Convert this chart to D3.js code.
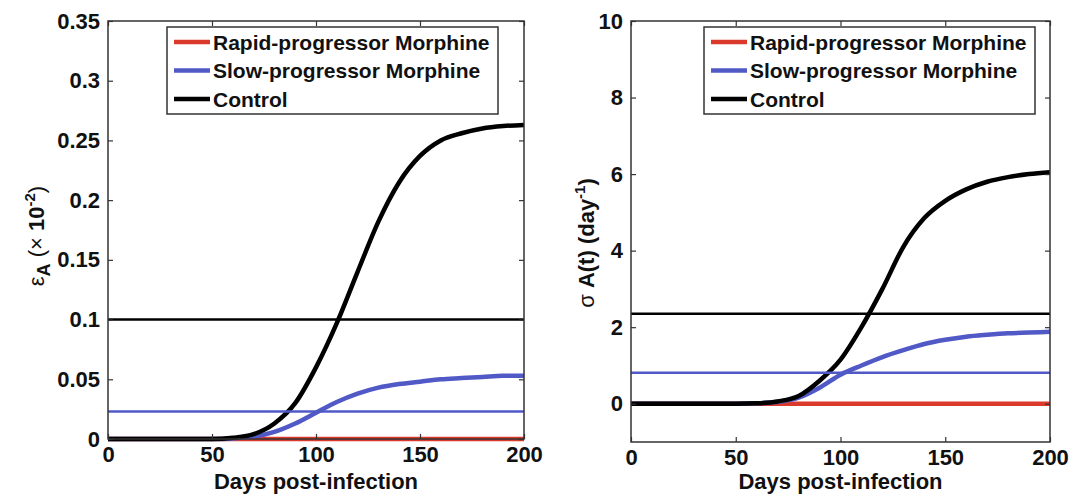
<!DOCTYPE html>
<html>
<head>
<meta charset="utf-8">
<script src="https://cdn.jsdelivr.net/npm/d3@7"></script>
<style>
  body { margin: 0; background: #fff; }
  text { font-family: Arial, "Liberation Sans", Helvetica, sans-serif; }
</style>
</head>
<body>
<div id="chart"></div>
<script>
// Days sampled every 10
const days = [0, 10, 20, 30, 40, 50, 60, 70, 80, 90, 100, 110, 120, 130, 140, 150, 160, 170, 180, 190, 200];

// Left panel: epsilon_A
const leftRapid   = [0, 0, 0, 0, 0, 0, 0, 0, 0, 0, 0, 0, 0, 0, 0, 0, 0, 0, 0, 0, 0];
const leftSlow    = [0, 0, 0, 0, 0, 0, 0.0005, 0.002, 0.006, 0.013, 0.022, 0.031, 0.038, 0.043, 0.046, 0.048, 0.05, 0.051, 0.052, 0.053, 0.053];
const leftControl = [0, 0, 0, 0, 0, 0, 0.001, 0.004, 0.013, 0.03, 0.06, 0.097, 0.14, 0.182, 0.215, 0.237, 0.25, 0.256, 0.26, 0.262, 0.263];
const leftLevels  = { slow: 0.023, control: 0.1 };
const leftTicks   = [0, 0.05, 0.1, 0.15, 0.2, 0.25, 0.3, 0.35];

// Right panel: sigma A(t)
const rightRapid   = [0, 0, 0, 0, 0, 0, 0, 0, 0, 0, 0, 0, 0, 0, 0, 0, 0, 0, 0, 0, 0];
const rightSlow    = [0, 0, 0, 0, 0, 0, 0.01, 0.05, 0.16, 0.42, 0.76, 1.0, 1.22, 1.4, 1.56, 1.67, 1.75, 1.8, 1.84, 1.86, 1.88];
const rightControl = [0, 0, 0, 0, 0, 0, 0.01, 0.06, 0.2, 0.6, 1.15, 2.0, 3.0, 4.1, 4.85, 5.3, 5.6, 5.8, 5.92, 6.0, 6.05];
const rightLevels  = { slow: 0.81, control: 2.35 };
const rightTicks   = [0, 2, 4, 6, 8, 10];

const xTicks = [0, 50, 100, 150, 200];
const legendLabels = ["Rapid-progressor Morphine", "Slow-progressor Morphine", "Control"];
const colors = { rapid: "#d93a2b", slow: "#5059c6", control: "#000" };

const svg = d3.select('#chart').append('svg')
    .attr('width', 1085)
    .attr('height', 496);

svg.append('rect').attr('width', 1085).attr('height', 496).attr('fill', '#fff');

function drawPanel(p) {
    const x = d3.scaleLinear().domain([0, 200]).range([p.left, p.right]);
    const y = d3.scaleLinear().domain(p.yDomain).range([p.bottom, p.top]);
    const g = svg.append('g');

    const line = d3.line()
        .x((d, i) => x(days[i]))
        .y(d => y(d))
        .curve(d3.curveMonotoneX);

    // curves
    g.append('path').datum(p.rapid).attr('d', line)
        .attr('fill', 'none').attr('stroke', colors.rapid).attr('stroke-width', 4.5);
    g.append('path').datum(p.slow).attr('d', line)
        .attr('fill', 'none').attr('stroke', colors.slow).attr('stroke-width', 4.5);
    g.append('path').datum(p.control).attr('d', line)
        .attr('fill', 'none').attr('stroke', colors.control).attr('stroke-width', 4.5);

    // horizontal threshold lines
    g.append('line')
        .attr('x1', x(0)).attr('x2', x(200))
        .attr('y1', y(p.levels.slow)).attr('y2', y(p.levels.slow))
        .attr('stroke', colors.slow).attr('stroke-width', 2.5);
    g.append('line')
        .attr('x1', x(0)).attr('x2', x(200))
        .attr('y1', y(p.levels.control)).attr('y2', y(p.levels.control))
        .attr('stroke', colors.control).attr('stroke-width', 2.5);

    // axes, ticks inside on all four sides
    const tickStyle = sel => {
        sel.attr('font-family', 'Arial, "Liberation Sans", sans-serif')
            .attr('font-size', 22)
            .attr('font-weight', 'bold');
        sel.select('.domain').remove();
        sel.selectAll('line').attr('stroke', '#333').attr('stroke-width', 1.2);
        sel.selectAll('text').attr('fill', '#111');
    };
    g.append('g').attr('transform', `translate(0,${p.bottom})`)
        .call(d3.axisBottom(x).tickValues(xTicks).tickSize(-5).tickPadding(7).tickFormat(d3.format('d')))
        .call(tickStyle);
    g.append('g').attr('transform', `translate(0,${p.top})`)
        .call(d3.axisTop(x).tickValues(xTicks).tickSize(-5).tickFormat(''))
        .call(tickStyle);
    g.append('g').attr('transform', `translate(${p.left},0)`)
        .call(d3.axisLeft(y).tickValues(p.ticks).tickSize(-5).tickPadding(8).tickFormat(p.fmt))
        .call(tickStyle);
    g.append('g').attr('transform', `translate(${p.right},0)`)
        .call(d3.axisRight(y).tickValues(p.ticks).tickSize(-5).tickFormat(''))
        .call(tickStyle);

    g.append('rect')
        .attr('x', p.left).attr('y', p.top)
        .attr('width', p.right - p.left).attr('height', p.bottom - p.top)
        .attr('fill', 'none').attr('stroke', '#333').attr('stroke-width', 1.5);

    // x label
    g.append('text')
        .attr('x', (p.left + p.right) / 2).attr('y', 489)
        .attr('text-anchor', 'middle')
        .style('font-size', '22px').style('font-weight', 'bold').attr('fill', '#111')
        .text('Days post-infection');

    // y label
    const yl = g.append('text')
        .attr('transform', `translate(${p.ylabelX},${p.ylabelY}) rotate(-90)`)
        .attr('text-anchor', 'middle')
        .style('font-size', '22px').style('font-weight', 'bold').attr('fill', '#111');
    p.ylabel(yl);

    // legend
    const lg = g.append('g').attr('transform', `translate(${p.legendX},27)`);
    lg.append('rect').attr('width', 331).attr('height', 87)
        .attr('fill', '#fff').attr('stroke', '#333').attr('stroke-width', 1.5);
    const keys = ['rapid', 'slow', 'control'];
    legendLabels.forEach((label, i) => {
        const cy = 15 + i * 28.5;
        lg.append('line').attr('x1', 7).attr('x2', 43).attr('y1', cy).attr('y2', cy)
            .attr('stroke', colors[keys[i]]).attr('stroke-width', 4.5);
        lg.append('text').attr('x', 46).attr('y', cy).attr('dy', '0.36em')
            .style('font-size', '21px').style('font-weight', 'bold').attr('fill', '#111')
            .text(label);
    });
}

drawPanel({
    left: 108, right: 524, top: 21, bottom: 439,
    yDomain: [0, 0.35], ticks: leftTicks, fmt: d => d === 0 ? '0' : String(d),
    rapid: leftRapid, slow: leftSlow, control: leftControl, levels: leftLevels,
    legendX: 167, ylabelX: 44, ylabelY: 236,
    ylabel: t => {
        t.append('tspan').style('font-weight', 'normal').text('ε');
        t.append('tspan').style('font-size', '18px').attr('dy', 6).text('A');
        t.append('tspan').attr('dy', -6).style('font-weight', 'normal').text(' (× ');
        t.append('tspan').text('10');
        t.append('tspan').style('font-size', '15px').attr('dy', -9).text('-2');
        t.append('tspan').attr('dy', 9).style('font-weight', 'normal').text(')');
    }
});

drawPanel({
    left: 631, right: 1050, top: 21, bottom: 442,
    yDomain: [-1, 10], ticks: rightTicks, fmt: d3.format('d'),
    rapid: rightRapid, slow: rightSlow, control: rightControl, levels: rightLevels,
    legendX: 704, ylabelX: 594, ylabelY: 243,
    ylabel: t => {
        t.append('tspan').style('font-weight', 'normal').text('σ ');
        t.append('tspan').text('A(t) (day');
        t.append('tspan').style('font-size', '15px').attr('dy', -9).text('-1');
        t.append('tspan').attr('dy', 9).text(')');
    }
});
</script>
</body>
</html>
